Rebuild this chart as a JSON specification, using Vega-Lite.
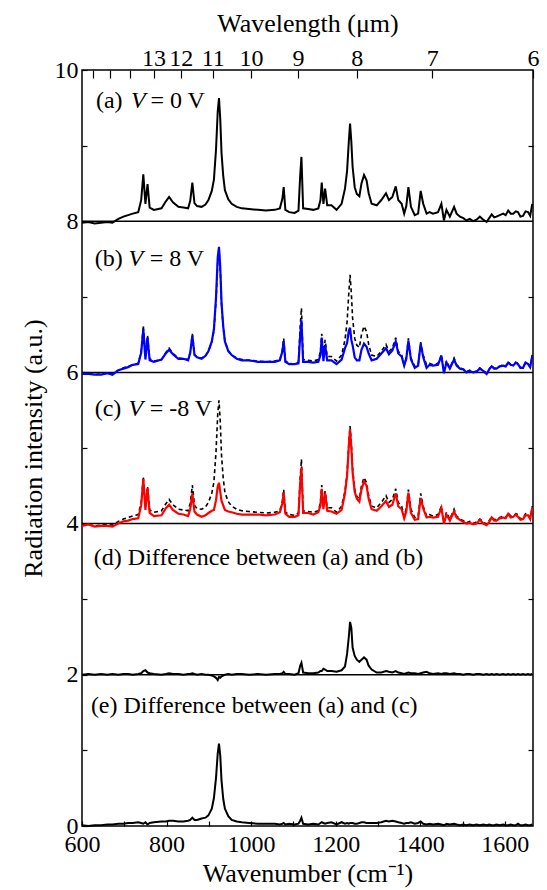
{
"$schema": "https://vega.github.io/schema/vega-lite/v6.json",
"width": 451, "height": 756,
"autosize": "none",
"padding": {"left": 82, "top": 70, "right": 14, "bottom": 64},
"background": "white",
"config": {
 "font": "Liberation Serif",
 "view": {"stroke": "black", "strokeWidth": 1.5},
 "style": {"guide-label": {"font": "Liberation Serif", "fontSize": 24, "fill": "black"}, "guide-title": {"font": "Liberation Serif", "fontSize": 26, "fontWeight": "normal", "fill": "black"}},
 "axis": {"grid": false, "labelFont": "Liberation Serif", "labelFontSize": 24, "labelColor": "black", "titleFont": "Liberation Serif", "titleFontSize": 26, "titleFontWeight": "normal", "titleColor": "black", "tickColor": "black", "domainColor": "black", "domainWidth": 1.5, "tickWidth": 1.2},
 "text": {"font": "Liberation Serif"}
},
"data": {"values": [
{"w":600,"a":7.98,"p":5.98,"b":5.98,"q":3.98,"c":3.97,"d":2.00,"e":0.01},
{"w":615,"a":7.99,"p":5.99,"b":5.98,"q":3.99,"c":3.99,"d":2.01,"e":0.00},
{"w":630,"a":7.97,"p":5.97,"b":5.97,"q":3.97,"c":3.96,"d":2.00,"e":0.01},
{"w":645,"a":7.98,"p":5.98,"b":5.97,"q":3.98,"c":3.97,"d":2.01,"e":0.01},
{"w":660,"a":7.99,"p":5.99,"b":5.99,"q":3.99,"c":3.97,"d":2.00,"e":0.02},
{"w":672,"a":7.98,"p":5.98,"b":5.97,"q":3.98,"c":3.96,"d":2.01,"e":0.02},
{"w":686,"a":8.03,"p":6.03,"b":6.03,"q":4.03,"c":4.00,"d":2.00,"e":0.03},
{"w":698,"a":8.06,"p":6.06,"b":6.05,"q":4.06,"c":4.03,"d":2.01,"e":0.03},
{"w":709,"a":8.08,"p":6.08,"b":6.07,"q":4.08,"c":4.04,"d":2.01,"e":0.04},
{"w":720,"a":8.10,"p":6.10,"b":6.10,"q":4.10,"c":4.06,"d":2.00,"e":0.04},
{"w":733,"a":8.12,"p":6.12,"b":6.11,"q":4.12,"c":4.07,"d":2.01,"e":0.05},
{"w":740,"a":8.28,"p":6.28,"b":6.26,"q":4.28,"c":4.24,"d":2.02,"e":0.04},
{"w":745,"a":8.62,"p":6.62,"b":6.57,"q":4.62,"c":4.59,"d":2.05,"e":0.03},
{"w":750,"a":8.23,"p":6.23,"b":6.17,"q":4.23,"c":4.18,"d":2.06,"e":0.05},
{"w":755,"a":8.49,"p":6.49,"b":6.46,"q":4.49,"c":4.47,"d":2.03,"e":0.02},
{"w":760,"a":8.18,"p":6.18,"b":6.16,"q":4.18,"c":4.14,"d":2.02,"e":0.04},
{"w":770,"a":8.15,"p":6.15,"b":6.14,"q":4.15,"c":4.10,"d":2.01,"e":0.05},
{"w":788,"a":8.17,"p":6.17,"b":6.17,"q":4.17,"c":4.11,"d":2.00,"e":0.06},
{"w":798,"a":8.26,"p":6.26,"b":6.25,"q":4.26,"c":4.20,"d":2.01,"e":0.06},
{"w":806,"a":8.32,"p":6.32,"b":6.30,"q":4.32,"c":4.25,"d":2.02,"e":0.07},
{"w":815,"a":8.25,"p":6.25,"b":6.24,"q":4.25,"c":4.18,"d":2.01,"e":0.07},
{"w":828,"a":8.19,"p":6.19,"b":6.18,"q":4.19,"c":4.13,"d":2.01,"e":0.06},
{"w":840,"a":8.18,"p":6.18,"b":6.18,"q":4.18,"c":4.12,"d":2.00,"e":0.06},
{"w":851,"a":8.17,"p":6.17,"b":6.16,"q":4.17,"c":4.10,"d":2.01,"e":0.07},
{"w":856,"a":8.27,"p":6.27,"b":6.26,"q":4.27,"c":4.19,"d":2.01,"e":0.08},
{"w":861,"a":8.51,"p":6.51,"b":6.49,"q":4.51,"c":4.40,"d":2.02,"e":0.11},
{"w":866,"a":8.24,"p":6.24,"b":6.23,"q":4.24,"c":4.16,"d":2.01,"e":0.08},
{"w":872,"a":8.20,"p":6.20,"b":6.20,"q":4.20,"c":4.12,"d":2.00,"e":0.08},
{"w":883,"a":8.19,"p":6.19,"b":6.18,"q":4.19,"c":4.09,"d":2.01,"e":0.10},
{"w":892,"a":8.22,"p":6.22,"b":6.22,"q":4.22,"c":4.11,"d":2.00,"e":0.11},
{"w":899,"a":8.28,"p":6.28,"b":6.28,"q":4.28,"c":4.14,"d":2.00,"e":0.14},
{"w":907,"a":8.40,"p":6.40,"b":6.41,"q":4.40,"c":4.17,"d":1.99,"e":0.23},
{"w":912,"a":8.55,"p":6.55,"b":6.57,"q":4.55,"c":4.18,"d":1.98,"e":0.37},
{"w":917,"a":8.95,"p":6.95,"b":6.99,"q":4.95,"c":4.31,"d":1.96,"e":0.64},
{"w":921,"a":9.45,"p":7.45,"b":7.52,"q":5.45,"c":4.49,"d":1.93,"e":0.96},
{"w":924,"a":9.63,"p":7.63,"b":7.66,"q":5.63,"c":4.54,"d":1.97,"e":1.09},
{"w":927,"a":9.35,"p":7.35,"b":7.39,"q":5.35,"c":4.42,"d":1.96,"e":0.93},
{"w":930,"a":8.90,"p":6.90,"b":6.92,"q":4.90,"c":4.30,"d":1.98,"e":0.60},
{"w":934,"a":8.60,"p":6.60,"b":6.61,"q":4.60,"c":4.24,"d":1.99,"e":0.36},
{"w":938,"a":8.41,"p":6.41,"b":6.41,"q":4.41,"c":4.18,"d":2.00,"e":0.23},
{"w":946,"a":8.29,"p":6.29,"b":6.28,"q":4.29,"c":4.16,"d":2.01,"e":0.13},
{"w":954,"a":8.23,"p":6.23,"b":6.23,"q":4.23,"c":4.15,"d":2.00,"e":0.08},
{"w":966,"a":8.19,"p":6.19,"b":6.18,"q":4.19,"c":4.13,"d":2.01,"e":0.06},
{"w":978,"a":8.17,"p":6.17,"b":6.16,"q":4.17,"c":4.12,"d":2.01,"e":0.05},
{"w":995,"a":8.16,"p":6.16,"b":6.16,"q":4.16,"c":4.12,"d":2.00,"e":0.04},
{"w":1016,"a":8.15,"p":6.15,"b":6.14,"q":4.15,"c":4.12,"d":2.01,"e":0.03},
{"w":1035,"a":8.14,"p":6.14,"b":6.14,"q":4.14,"c":4.11,"d":2.00,"e":0.03},
{"w":1056,"a":8.15,"p":6.15,"b":6.14,"q":4.15,"c":4.12,"d":2.01,"e":0.03},
{"w":1068,"a":8.17,"p":6.17,"b":6.16,"q":4.17,"c":4.15,"d":2.01,"e":0.02},
{"w":1074,"a":8.30,"p":6.30,"b":6.28,"q":4.30,"c":4.27,"d":2.02,"e":0.03},
{"w":1077,"a":8.45,"p":6.45,"b":6.41,"q":4.45,"c":4.41,"d":2.04,"e":0.04},
{"w":1081,"a":8.15,"p":6.15,"b":6.14,"q":4.15,"c":4.13,"d":2.01,"e":0.02},
{"w":1090,"a":8.12,"p":6.12,"b":6.11,"q":4.12,"c":4.09,"d":2.01,"e":0.03},
{"w":1103,"a":8.11,"p":6.11,"b":6.11,"q":4.11,"c":4.09,"d":2.00,"e":0.02},
{"w":1112,"a":8.14,"p":6.14,"b":6.12,"q":4.14,"c":4.11,"d":2.02,"e":0.03},
{"w":1116,"a":8.60,"p":6.60,"b":6.48,"q":4.60,"c":4.53,"d":2.12,"e":0.07},
{"w":1119,"a":8.85,"p":6.85,"b":6.69,"q":4.85,"c":4.74,"d":2.16,"e":0.11},
{"w":1123,"a":8.17,"p":6.17,"b":6.14,"q":4.17,"c":4.14,"d":2.03,"e":0.03},
{"w":1135,"a":8.16,"p":6.16,"b":6.14,"q":4.16,"c":4.14,"d":2.02,"e":0.02},
{"w":1147,"a":8.15,"p":6.15,"b":6.13,"q":4.15,"c":4.12,"d":2.02,"e":0.03},
{"w":1159,"a":8.17,"p":6.17,"b":6.14,"q":4.17,"c":4.15,"d":2.03,"e":0.02},
{"w":1164,"a":8.28,"p":6.28,"b":6.23,"q":4.28,"c":4.24,"d":2.05,"e":0.04},
{"w":1167,"a":8.51,"p":6.51,"b":6.46,"q":4.51,"c":4.46,"d":2.05,"e":0.05},
{"w":1171,"a":8.23,"p":6.23,"b":6.15,"q":4.23,"c":4.19,"d":2.08,"e":0.04},
{"w":1175,"a":8.43,"p":6.43,"b":6.36,"q":4.43,"c":4.40,"d":2.07,"e":0.03},
{"w":1180,"a":8.21,"p":6.21,"b":6.16,"q":4.21,"c":4.17,"d":2.05,"e":0.04},
{"w":1190,"a":8.21,"p":6.21,"b":6.16,"q":4.21,"c":4.16,"d":2.05,"e":0.05},
{"w":1202,"a":8.15,"p":6.15,"b":6.11,"q":4.15,"c":4.13,"d":2.04,"e":0.02},
{"w":1214,"a":8.23,"p":6.23,"b":6.17,"q":4.23,"c":4.18,"d":2.06,"e":0.05},
{"w":1222,"a":8.43,"p":6.43,"b":6.32,"q":4.43,"c":4.40,"d":2.11,"e":0.03},
{"w":1227,"a":8.67,"p":6.67,"b":6.39,"q":4.67,"c":4.63,"d":2.28,"e":0.04},
{"w":1231,"a":9.05,"p":7.05,"b":6.55,"q":5.05,"c":5.02,"d":2.50,"e":0.03},
{"w":1234,"a":9.29,"p":7.29,"b":6.59,"q":5.29,"c":5.25,"d":2.70,"e":0.04},
{"w":1237,"a":9.05,"p":7.05,"b":6.43,"q":5.05,"c":5.01,"d":2.62,"e":0.04},
{"w":1240,"a":8.72,"p":6.72,"b":6.36,"q":4.72,"c":4.68,"d":2.36,"e":0.04},
{"w":1245,"a":8.45,"p":6.45,"b":6.20,"q":4.45,"c":4.42,"d":2.25,"e":0.03},
{"w":1250,"a":8.36,"p":6.36,"b":6.16,"q":4.36,"c":4.33,"d":2.20,"e":0.03},
{"w":1256,"a":8.33,"p":6.33,"b":6.16,"q":4.33,"c":4.29,"d":2.17,"e":0.04},
{"w":1261,"a":8.50,"p":6.50,"b":6.30,"q":4.50,"c":4.45,"d":2.20,"e":0.05},
{"w":1267,"a":8.61,"p":6.61,"b":6.38,"q":4.61,"c":4.56,"d":2.23,"e":0.05},
{"w":1273,"a":8.54,"p":6.54,"b":6.34,"q":4.54,"c":4.50,"d":2.20,"e":0.04},
{"w":1278,"a":8.37,"p":6.37,"b":6.25,"q":4.37,"c":4.33,"d":2.12,"e":0.04},
{"w":1285,"a":8.23,"p":6.23,"b":6.16,"q":4.23,"c":4.19,"d":2.07,"e":0.04},
{"w":1297,"a":8.21,"p":6.21,"b":6.18,"q":4.21,"c":4.17,"d":2.03,"e":0.04},
{"w":1308,"a":8.28,"p":6.28,"b":6.25,"q":4.28,"c":4.23,"d":2.03,"e":0.05},
{"w":1319,"a":8.37,"p":6.37,"b":6.32,"q":4.37,"c":4.30,"d":2.05,"e":0.07},
{"w":1326,"a":8.28,"p":6.28,"b":6.24,"q":4.28,"c":4.22,"d":2.04,"e":0.06},
{"w":1334,"a":8.32,"p":6.32,"b":6.29,"q":4.32,"c":4.25,"d":2.03,"e":0.07},
{"w":1342,"a":8.46,"p":6.46,"b":6.41,"q":4.46,"c":4.40,"d":2.05,"e":0.06},
{"w":1348,"a":8.28,"p":6.28,"b":6.25,"q":4.28,"c":4.23,"d":2.03,"e":0.05},
{"w":1356,"a":8.23,"p":6.23,"b":6.21,"q":4.23,"c":4.19,"d":2.02,"e":0.04},
{"w":1362,"a":8.10,"p":6.10,"b":6.09,"q":4.10,"c":4.07,"d":2.01,"e":0.03},
{"w":1367,"a":8.20,"p":6.20,"b":6.18,"q":4.20,"c":4.16,"d":2.02,"e":0.04},
{"w":1372,"a":8.45,"p":6.45,"b":6.42,"q":4.45,"c":4.41,"d":2.03,"e":0.04},
{"w":1378,"a":8.19,"p":6.19,"b":6.17,"q":4.19,"c":4.14,"d":2.02,"e":0.05},
{"w":1387,"a":8.08,"p":6.08,"b":6.06,"q":4.08,"c":4.05,"d":2.02,"e":0.03},
{"w":1395,"a":8.10,"p":6.10,"b":6.09,"q":4.10,"c":4.06,"d":2.01,"e":0.04},
{"w":1401,"a":8.40,"p":6.40,"b":6.38,"q":4.40,"c":4.34,"d":2.02,"e":0.06},
{"w":1407,"a":8.23,"p":6.23,"b":6.20,"q":4.23,"c":4.20,"d":2.03,"e":0.03},
{"w":1415,"a":8.10,"p":6.10,"b":6.06,"q":4.10,"c":4.08,"d":2.04,"e":0.02},
{"w":1422,"a":8.12,"p":6.12,"b":6.10,"q":4.12,"c":4.09,"d":2.02,"e":0.03},
{"w":1430,"a":8.10,"p":6.10,"b":6.09,"q":4.10,"c":4.08,"d":2.01,"e":0.02},
{"w":1442,"a":8.12,"p":6.12,"b":6.10,"q":4.12,"c":4.09,"d":2.02,"e":0.03},
{"w":1450,"a":8.23,"p":6.23,"b":6.22,"q":4.23,"c":4.21,"d":2.01,"e":0.02},
{"w":1456,"a":8.01,"p":6.01,"b":5.99,"q":4.01,"c":4.00,"d":2.02,"e":0.01},
{"w":1462,"a":8.15,"p":6.15,"b":6.13,"q":4.15,"c":4.12,"d":2.02,"e":0.03},
{"w":1470,"a":8.06,"p":6.06,"b":6.05,"q":4.06,"c":4.04,"d":2.01,"e":0.02},
{"w":1480,"a":8.19,"p":6.19,"b":6.17,"q":4.19,"c":4.16,"d":2.02,"e":0.03},
{"w":1486,"a":8.10,"p":6.10,"b":6.09,"q":4.10,"c":4.08,"d":2.01,"e":0.02},
{"w":1494,"a":8.06,"p":6.06,"b":6.05,"q":4.06,"c":4.05,"d":2.01,"e":0.01},
{"w":1502,"a":8.04,"p":6.04,"b":6.04,"q":4.04,"c":4.02,"d":2.00,"e":0.02},
{"w":1509,"a":8.01,"p":6.01,"b":6.00,"q":4.01,"c":4.00,"d":2.01,"e":0.01},
{"w":1517,"a":8.03,"p":6.03,"b":6.02,"q":4.03,"c":4.01,"d":2.01,"e":0.02},
{"w":1525,"a":8.00,"p":6.00,"b":6.00,"q":4.00,"c":3.99,"d":2.00,"e":0.01},
{"w":1533,"a":8.02,"p":6.02,"b":6.01,"q":4.02,"c":4.00,"d":2.01,"e":0.02},
{"w":1541,"a":8.06,"p":6.06,"b":6.05,"q":4.06,"c":4.05,"d":2.01,"e":0.01},
{"w":1549,"a":8.02,"p":6.02,"b":6.02,"q":4.02,"c":4.00,"d":2.00,"e":0.02},
{"w":1557,"a":7.99,"p":5.99,"b":5.98,"q":3.99,"c":3.98,"d":2.01,"e":0.01},
{"w":1563,"a":8.04,"p":6.04,"b":6.04,"q":4.04,"c":4.02,"d":2.00,"e":0.02},
{"w":1569,"a":8.09,"p":6.09,"b":6.08,"q":4.09,"c":4.08,"d":2.01,"e":0.01},
{"w":1575,"a":8.05,"p":6.05,"b":6.05,"q":4.05,"c":4.04,"d":2.00,"e":0.01},
{"w":1580,"a":8.06,"p":6.06,"b":6.05,"q":4.06,"c":4.04,"d":2.01,"e":0.02},
{"w":1588,"a":8.08,"p":6.08,"b":6.08,"q":4.08,"c":4.07,"d":2.00,"e":0.01},
{"w":1596,"a":8.10,"p":6.10,"b":6.09,"q":4.10,"c":4.08,"d":2.01,"e":0.02},
{"w":1602,"a":8.08,"p":6.08,"b":6.08,"q":4.08,"c":4.07,"d":2.00,"e":0.01},
{"w":1608,"a":8.14,"p":6.14,"b":6.13,"q":4.14,"c":4.13,"d":2.01,"e":0.01},
{"w":1614,"a":8.10,"p":6.10,"b":6.10,"q":4.10,"c":4.08,"d":2.00,"e":0.02},
{"w":1620,"a":8.10,"p":6.10,"b":6.09,"q":4.10,"c":4.09,"d":2.01,"e":0.01},
{"w":1626,"a":8.13,"p":6.13,"b":6.13,"q":4.13,"c":4.12,"d":2.00,"e":0.01},
{"w":1631,"a":8.12,"p":6.12,"b":6.11,"q":4.12,"c":4.09,"d":2.01,"e":0.03},
{"w":1637,"a":8.06,"p":6.06,"b":6.06,"q":4.06,"c":4.05,"d":2.00,"e":0.01},
{"w":1643,"a":8.07,"p":6.07,"b":6.06,"q":4.07,"c":4.06,"d":2.01,"e":0.01},
{"w":1649,"a":8.13,"p":6.13,"b":6.13,"q":4.13,"c":4.11,"d":2.00,"e":0.02},
{"w":1655,"a":8.12,"p":6.12,"b":6.11,"q":4.12,"c":4.11,"d":2.01,"e":0.01},
{"w":1660,"a":8.07,"p":6.07,"b":6.07,"q":4.07,"c":4.06,"d":2.00,"e":0.01},
{"w":1665,"a":8.23,"p":6.23,"b":6.22,"q":4.23,"c":4.21,"d":2.01,"e":0.02}
]},
"resolve": {"axis": {"x": "independent", "y": "independent"}},
"layer": [
 {
  "data": {"values": [{"v": 2}, {"v": 4}, {"v": 6}, {"v": 8}]},
  "mark": {"type": "rule", "color": "black", "strokeWidth": 1.5},
  "encoding": {
   "y": {"field": "v", "type": "quantitative", "scale": {"domain": [0, 10], "nice": false, "zero": false},
         "axis": {"orient": "right", "values": [1, 3, 5, 7, 9], "labels": false, "title": null, "tickSize": -5, "domain": false}}
  }
 },
 {
  "mark": {"type": "line", "color": "black", "strokeWidth": 1.6, "strokeDash": [4, 3]},
  "encoding": {
   "x": {"field": "w", "type": "quantitative", "scale": {"domain": [600, 1666.67], "nice": false, "zero": false},
         "axis": {"orient": "top", "values": [625, 666.67, 714.29, 769.23, 833.33, 909.09, 1000, 1111.11, 1250, 1428.57, 1666.67],
                  "labelExpr": "datum.value < 760 ? '' : format(10000 / datum.value, '.0f')", "labelFlush": false, "labelOverlap": false,
                  "labelFont": "Liberation Serif", "labelFontSize": 24, "titleFont": "Liberation Serif", "titleFontSize": 26, "titleFontWeight": "normal",
                  "tickSize": -8, "labelPadding": 8, "title": "Wavelength (μm)", "titlePadding": 10, "domain": false}},
   "y": {"field": "p", "type": "quantitative", "axis": null}
  }
 },
 {
  "mark": {"type": "line", "color": "black", "strokeWidth": 1.6, "strokeDash": [4, 3]},
  "encoding": {
   "x": {"field": "w", "type": "quantitative", "axis": null},
   "y": {"field": "q", "type": "quantitative", "axis": null}
  }
 },
 {
  "mark": {"type": "line", "color": "black", "strokeWidth": 2},
  "encoding": {
   "x": {"field": "w", "type": "quantitative",
         "axis": {"orient": "bottom", "values": [600, 700, 800, 900, 1000, 1100, 1200, 1300, 1400, 1500, 1600],
                  "labelExpr": "datum.value % 200 == 0 ? datum.value : ''", "labelFlush": false, "labelOverlap": false,
                  "labelFont": "Liberation Serif", "labelFontSize": 24, "titleFont": "Liberation Serif", "titleFontSize": 26, "titleFontWeight": "normal",
                  "tickSize": -5, "labelPadding": 11, "title": "Wavenumber (cm⁻¹)", "titlePadding": 4, "domain": false}},
   "y": {"field": "a", "type": "quantitative",
         "axis": {"orient": "left", "values": [0, 1, 2, 3, 4, 5, 6, 7, 8, 9, 10],
                  "labelExpr": "datum.value % 2 == 0 ? datum.value : ''", "labelOverlap": false, "labelFlush": false,
                  "labelFont": "Liberation Serif", "labelFontSize": 24, "titleFont": "Liberation Serif", "titleFontSize": 26, "titleFontWeight": "normal",
                  "tickSize": -5, "labelPadding": 9, "title": "Radiation intensity (a.u.)", "titlePadding": 8, "domain": false}}
  }
 },
 {
  "mark": {"type": "line", "color": "#0000ff", "strokeWidth": 2.2},
  "encoding": {
   "x": {"field": "w", "type": "quantitative", "axis": null},
   "y": {"field": "b", "type": "quantitative", "axis": null}
  }
 },
 {
  "mark": {"type": "line", "color": "#ff0000", "strokeWidth": 2.2},
  "encoding": {
   "x": {"field": "w", "type": "quantitative", "axis": null},
   "y": {"field": "c", "type": "quantitative", "axis": null}
  }
 },
 {
  "mark": {"type": "line", "color": "black", "strokeWidth": 2},
  "encoding": {
   "x": {"field": "w", "type": "quantitative", "axis": null},
   "y": {"field": "d", "type": "quantitative", "axis": null}
  }
 },
 {
  "mark": {"type": "line", "color": "black", "strokeWidth": 2},
  "encoding": {
   "x": {"field": "w", "type": "quantitative", "axis": null},
   "y": {"field": "e", "type": "quantitative", "axis": null}
  }
 },
 {
  "data": {"values": [
   {"w": 633, "v": 9.5, "t": "(a)"},
   {"w": 630, "v": 7.41, "t": "(b)"},
   {"w": 630, "v": 5.42, "t": "(c)"},
   {"w": 628, "v": 3.45, "t": "(d) Difference between (a) and (b)"},
   {"w": 621, "v": 1.5, "t": "(e) Difference between (a) and (c)"}
  ]},
  "mark": {"type": "text", "align": "left", "baseline": "alphabetic", "font": "Liberation Serif", "fontSize": 24, "color": "black"},
  "encoding": {
   "x": {"field": "w", "type": "quantitative", "axis": null},
   "y": {"field": "v", "type": "quantitative", "axis": null},
   "text": {"field": "t"}
  }
 },
 {
  "data": {"values": [
   {"w": 716, "v": 9.5, "t": "V"},
   {"w": 710, "v": 7.41, "t": "V"},
   {"w": 710, "v": 5.42, "t": "V"}
  ]},
  "mark": {"type": "text", "align": "left", "baseline": "alphabetic", "font": "Liberation Serif", "fontSize": 24, "fontStyle": "italic", "color": "black"},
  "encoding": {
   "x": {"field": "w", "type": "quantitative", "axis": null},
   "y": {"field": "v", "type": "quantitative", "axis": null},
   "text": {"field": "t"}
  }
 },
 {
  "data": {"values": [
   {"w": 762, "v": 9.5, "t": "= 0 V"},
   {"w": 760, "v": 7.41, "t": "= 8 V"},
   {"w": 760, "v": 5.42, "t": "= -8 V"}
  ]},
  "mark": {"type": "text", "align": "left", "baseline": "alphabetic", "font": "Liberation Serif", "fontSize": 24, "color": "black"},
  "encoding": {
   "x": {"field": "w", "type": "quantitative", "axis": null},
   "y": {"field": "v", "type": "quantitative", "axis": null},
   "text": {"field": "t"}
  }
 }
]
}
